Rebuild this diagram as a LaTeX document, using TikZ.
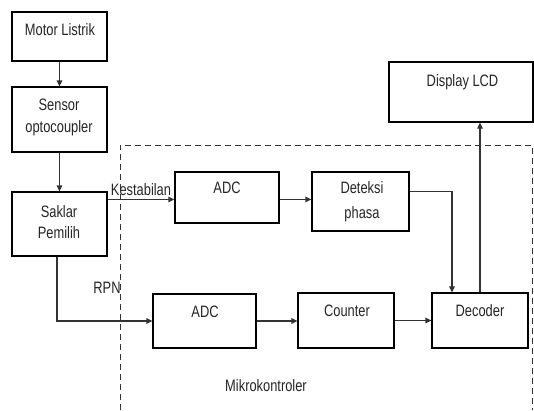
\documentclass[tikz,border=0pt]{standalone}
\usepackage{fontspec}
\setmainfont{Liberation Sans}[FakeStretch=0.78]
\usetikzlibrary{arrows.meta,calc}
\begin{document}
\begin{tikzpicture}[x=1pt,y=-1pt,
  box/.style={draw=black,line width=1.2pt,rectangle,inner sep=0pt},
  lbl/.style={anchor=base,inner sep=0pt,font=\fontsize{16.5}{18}\selectfont,text=black!85},
  arr/.style={draw=black!80,line width=1.2pt,-{Triangle[length=6pt,width=5.5pt]}},
  frame/.style={draw=black!80,line width=1pt,dash pattern=on 6pt off 4pt}]
\useasboundingbox[fill=white] (0,0) rectangle (534,410);
% boxes
\node[box,minimum width=95pt,minimum height=49pt] (motor) at (59.5,36.5) {};
\node[box,minimum width=95pt,minimum height=65pt] (sensor) at (59.5,119.5) {};
\node[box,minimum width=95pt,minimum height=64pt] (saklar) at (59.5,224) {};
\node[box,minimum width=104pt,minimum height=51pt] (adc1) at (227,197.5) {};
\node[box,minimum width=97pt,minimum height=59pt] (deteksi) at (360.5,201.5) {};
\node[box,minimum width=144pt,minimum height=60pt] (display) at (461,92) {};
\node[box,minimum width=103pt,minimum height=54pt] (adc2) at (204.5,321) {};
\node[box,minimum width=96pt,minimum height=55pt] (counter) at (346,320.5) {};
\node[box,minimum width=96pt,minimum height=55pt] (decoder) at (480,320.5) {};
% dashed frame
\coordinate (fbl) at (120,410);
\coordinate (ftl) at (120,145);
\coordinate (ftr) at (532,145);
\coordinate (fbr) at (532,410);
\draw[frame] (fbl) -- (ftl) -- (ftr) -- (fbr);
% texts
\node[lbl] (tmotor) at (60,35) {Motor Listrik};
\node[lbl] (tsensor1) at (59,110) {Sensor};
\node[lbl] (tsensor2) at (59,132) {optocoupler};
\node[lbl] (tsaklar1) at (59,217) {Saklar};
\node[lbl] (tsaklar2) at (59,238) {Pemilih};
\node[lbl] (tadc1) at (227,193) {ADC};
\node[lbl] (tdet1) at (362,193) {Deteksi};
\node[lbl] (tdet2) at (362,218) {phasa};
\node[lbl] (tdisp) at (462.5,86) {Display LCD};
\node[lbl] (tadc2) at (205,317) {ADC};
\node[lbl] (tcount) at (347,316) {Counter};
\node[lbl] (tdec) at (480,316) {Decoder};
\node[lbl] (tkest) at (141,195) {Kestabilan};
\node[lbl] (trpn) at (107,293) {RPN};
\node[lbl] (tmikro) at (266,391) {Mikrokontroler};
% connectors
\draw[arr] (motor.south) -- (sensor.north);
\draw[arr] (sensor.south) -- (saklar.north);
\draw[arr] ($(saklar.north east)+(0,8)$) -- ($(adc1.north west)+(0,28)$);
\draw[arr] ($(adc1.north east)+(0,28)$) -- ($(deteksi.north west)+(0,28)$);
\draw[arr] ($(deteksi.north east)+(0,20)$) -| ([xshift=-28pt]decoder.north);
\draw[arr] (decoder.north) -- (decoder.north |- display.south);
\draw[arr] ([xshift=-2.5pt]saklar.south) |- (adc2.west);
\draw[arr] (adc2.east) -- (adc2.east -| counter.west);
\draw[arr] (counter.east) -- (counter.east -| decoder.west);
\end{tikzpicture}
\end{document}
